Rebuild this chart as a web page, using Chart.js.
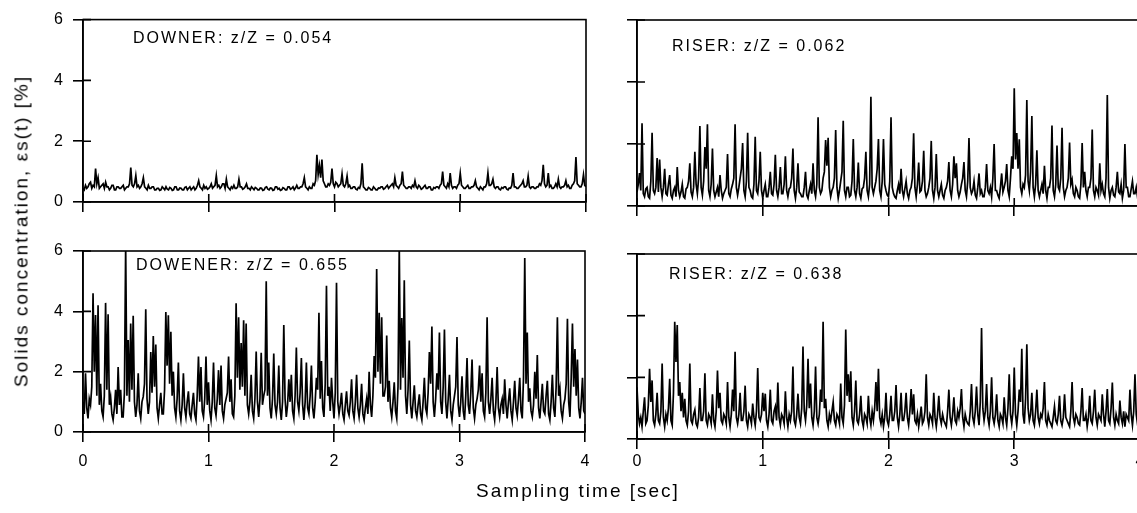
<!DOCTYPE html>
<html>
<head>
<meta charset="utf-8">
<script src="https://cdn.jsdelivr.net/npm/chart.js@4.4.1/dist/chart.umd.min.js"></script>
<style>
  html, body { margin:0; padding:0; background:#fff; overflow:hidden; width:1137px; height:513px; }
  canvas { position:absolute; left:0; top:0; }
  .txt { position:absolute; font-family:'Liberation Sans', Arial, sans-serif; color:#000; white-space:nowrap; letter-spacing:2px; }
  .ann { font-size:16px; line-height:16px; }
</style>
</head>
<body>
<canvas id="cTL" width="1160" height="513"></canvas>
<canvas id="cTR" width="1160" height="513"></canvas>
<canvas id="cBL" width="1160" height="513"></canvas>
<canvas id="cBR" width="1160" height="513"></canvas>

<div class="txt ann" style="left:133px; top:30px;">DOWNER: z/Z = 0.054</div>
<div class="txt ann" style="left:672px; top:38px;">RISER: z/Z = 0.062</div>
<div class="txt ann" style="left:136px; top:257px;">DOWENER: z/Z = 0.655</div>
<div class="txt ann" style="left:669px; top:266px;">RISER: z/Z = 0.638</div>
<div class="txt" style="left:578px; top:490px; font-size:19px; line-height:19px; transform:translate(-50%,-50%);">Sampling time [sec]</div>
<div class="txt" style="left:21px; top:231px; font-size:19px; line-height:19px; transform:translate(-50%,-50%) rotate(-90deg);">Solids concentration, εs(t) [%]</div>

<script>
// ---- data (solids concentration %, read every 0.01 s from 0 to 4 s) ----
const TIME_STEP = 0.01;
const xTicks = [0, 1, 2, 3, 4];
const yTicks = [0, 2, 4, 6];

const downerLow = [ // DOWNER z/Z = 0.054
0.45,0.4,0.55,0.45,0.5,0.6,0.65,0.45,0.55,0.5,1.1,0.6,0.8,0.45,0.5,0.55,0.6,0.45,0.65,0.5,
0.5,0.4,0.45,0.55,0.55,0.4,0.4,0.5,0.5,0.45,0.45,0.5,0.55,0.4,0.45,0.5,0.5,0.6,1.13,0.55,
0.5,0.6,0.87,0.5,0.55,0.45,0.5,0.6,0.8,0.5,0.45,0.4,0.55,0.45,0.45,0.5,0.5,0.4,0.4,0.45,
0.45,0.38,0.4,0.5,0.45,0.4,0.5,0.42,0.4,0.48,0.45,0.38,0.4,0.5,0.5,0.4,0.4,0.46,0.45,0.4,
0.4,0.48,0.5,0.4,0.45,0.5,0.4,0.45,0.5,0.4,0.45,0.55,0.7,0.5,0.45,0.4,0.55,0.45,0.5,0.42,
0.45,0.5,0.6,0.45,0.5,0.55,0.87,0.5,0.55,0.45,0.5,0.6,0.6,0.45,0.75,0.5,0.45,0.4,0.5,0.45,
0.55,0.45,0.45,0.5,0.75,0.5,0.5,0.42,0.45,0.5,0.6,0.45,0.45,0.4,0.5,0.45,0.4,0.48,0.45,0.4,
0.4,0.46,0.45,0.38,0.4,0.48,0.5,0.42,0.4,0.46,0.45,0.38,0.4,0.5,0.5,0.42,0.45,0.38,0.4,0.47,
0.45,0.4,0.4,0.5,0.5,0.42,0.45,0.5,0.4,0.46,0.55,0.45,0.45,0.5,0.5,0.6,0.8,0.5,0.45,0.4,
0.5,0.45,0.45,0.6,0.55,0.7,1.55,0.9,1.2,0.8,1.4,0.7,0.6,0.5,0.5,0.6,0.55,0.65,1.1,0.6,
0.5,0.65,0.6,0.5,0.55,0.6,0.93,0.55,0.5,0.6,0.85,0.5,0.55,0.45,0.45,0.5,0.5,0.42,0.4,0.48,
0.45,0.6,1.27,0.5,0.45,0.4,0.4,0.48,0.45,0.4,0.4,0.5,0.45,0.4,0.4,0.46,0.45,0.5,0.5,0.42,
0.45,0.5,0.55,0.45,0.5,0.55,0.6,0.5,0.8,0.55,0.5,0.45,0.55,0.6,1.0,0.55,0.5,0.45,0.45,0.5,
0.5,0.45,0.55,0.5,0.7,0.5,0.45,0.55,0.5,0.42,0.45,0.5,0.55,0.45,0.45,0.5,0.5,0.4,0.4,0.48,
0.45,0.5,0.5,0.45,0.55,0.6,1.0,0.55,0.5,0.45,0.6,0.5,0.95,0.55,0.45,0.5,0.5,0.45,0.55,0.6,
0.95,0.55,0.5,0.45,0.45,0.5,0.55,0.45,0.45,0.5,0.5,0.55,0.7,0.5,0.45,0.4,0.5,0.45,0.4,0.5,
0.5,0.6,0.96,0.55,0.55,0.6,0.75,0.5,0.45,0.5,0.5,0.42,0.4,0.48,0.45,0.5,0.5,0.42,0.4,0.46,
0.45,0.55,0.95,0.5,0.5,0.45,0.45,0.5,0.55,0.6,0.7,0.5,0.5,0.55,0.85,0.5,0.45,0.5,0.5,0.45,
0.45,0.5,0.5,0.6,0.55,0.7,1.22,0.6,0.5,0.55,0.95,0.5,0.55,0.45,0.45,0.5,0.6,0.5,0.75,0.5,
0.45,0.5,0.5,0.55,0.7,0.5,0.55,0.45,0.45,0.55,0.6,0.7,1.48,0.6,0.55,0.5,0.5,0.6,0.9,0.55,
0.5];

const riserLow = [ // RISER z/Z = 0.062
0.45,0.7,1.06,0.5,2.67,0.4,0.3,0.55,0.6,0.3,0.25,0.8,2.36,0.5,0.4,0.6,1.55,0.45,1.5,0.6,
0.3,0.6,1.2,0.4,0.35,0.7,1.0,0.35,0.25,0.5,0.6,0.3,1.26,0.5,0.3,0.45,0.7,0.3,0.25,0.55,
0.6,0.8,1.38,0.45,0.3,0.6,1.75,0.7,0.4,0.9,2.58,0.6,0.35,0.8,1.9,1.2,2.64,0.5,0.3,0.7,
1.85,0.5,0.3,0.45,0.6,0.3,1.0,0.5,0.25,0.4,0.5,0.6,1.68,0.4,0.3,0.55,0.7,0.9,2.64,0.6,
0.35,0.6,0.9,1.2,2.03,0.5,0.3,0.8,2.36,0.6,0.5,0.3,0.25,0.7,2.23,0.5,0.4,0.8,1.75,0.5,
0.25,0.5,0.7,0.3,0.3,0.6,1.1,0.4,0.35,0.7,1.65,0.5,0.3,0.6,1.26,0.4,0.4,0.7,1.6,0.5,
0.3,0.55,0.6,0.9,1.85,0.5,0.25,0.6,1.38,0.45,0.4,0.3,0.3,0.6,1.1,0.35,0.25,0.5,0.7,0.4,
1.38,0.5,0.3,0.7,2.86,0.6,0.4,0.5,0.9,1.1,2.13,1.3,2.2,0.6,0.3,0.5,0.6,0.9,2.45,0.6,
0.25,0.5,0.8,1.1,2.75,0.5,0.3,0.6,0.6,0.3,0.35,0.8,2.16,0.5,0.3,0.6,1.4,0.4,0.25,0.55,
0.6,0.9,1.75,0.5,0.3,0.7,3.52,0.6,0.4,0.6,0.8,1.2,2.16,0.5,0.3,0.8,2.16,0.7,0.5,0.35,
0.3,0.8,2.86,0.6,0.4,0.3,0.25,0.5,0.7,0.4,1.2,0.5,0.3,0.55,0.8,0.4,0.25,0.5,0.6,0.9,
2.35,0.6,0.3,0.7,1.4,0.45,0.5,0.8,1.78,0.5,0.3,0.4,0.6,0.9,2.1,0.5,0.25,0.6,1.68,0.5,
0.3,0.5,0.7,0.35,0.25,0.5,0.6,0.8,1.42,0.5,0.3,0.7,1.6,0.9,1.38,0.5,0.3,0.45,0.7,0.9,
1.42,0.5,0.3,0.8,2.19,0.6,0.4,0.5,0.8,0.35,0.25,0.6,1.05,0.4,0.5,0.3,0.3,0.6,1.35,0.5,
0.4,0.6,0.3,0.9,2.0,0.5,0.5,0.35,0.25,0.6,1.05,0.45,0.6,0.8,1.35,0.5,0.3,0.9,1.6,1.2,
3.8,1.5,2.35,1.2,2.15,0.6,0.4,0.7,0.6,1.0,3.42,0.8,0.5,1.1,2.9,0.6,0.3,0.7,1.8,0.5,
0.3,0.5,0.7,0.4,1.3,0.5,0.25,0.6,0.6,0.9,2.6,0.5,0.3,0.7,1.95,0.6,0.5,0.9,2.52,0.6,
0.3,0.5,0.6,0.9,2.05,0.7,0.85,0.4,0.3,0.6,0.5,0.3,0.25,0.7,2.03,0.6,1.1,0.5,0.3,0.6,
0.6,0.9,2.47,0.5,0.3,0.6,0.5,0.35,1.38,0.5,0.7,0.4,0.3,0.9,3.58,0.6,0.25,0.5,0.6,0.35,
0.3,0.6,1.1,0.45,0.4,0.7,0.25,0.5,2.0,0.6,0.6,0.3,0.3,0.55,0.8,0.4,0.4,0.6,0.3,0.5,
0.5];

const downerHigh = [ // DOWENER z/Z = 0.655
1.0,0.6,1.95,0.8,0.45,1.1,0.9,1.5,4.6,2.0,3.88,1.2,4.2,0.9,1.6,0.7,0.5,1.2,4.28,1.4,
3.9,0.9,1.17,0.6,0.4,0.8,1.4,0.6,2.15,0.9,1.4,0.5,0.5,1.3,6.2,1.2,3.05,1.0,3.6,1.4,
3.85,1.0,0.5,0.9,1.95,0.7,0.45,1.0,1.17,1.6,4.07,1.1,0.6,1.0,2.65,1.3,3.18,1.5,2.9,0.8,
0.45,0.9,1.3,0.6,0.6,1.4,3.98,2.2,3.87,1.6,3.32,1.2,2.0,0.8,0.5,1.1,2.3,0.7,0.4,0.9,
1.95,0.8,0.5,1.0,1.35,0.6,0.45,0.9,1.3,0.6,0.4,1.2,2.5,1.0,2.15,0.7,0.5,1.1,2.5,0.9,
1.65,0.7,0.4,1.0,2.3,0.8,0.55,1.1,2.05,0.9,2.2,0.7,0.45,0.9,1.1,1.3,2.5,1.0,1.75,0.6,
0.5,1.2,4.27,1.8,3.8,1.4,2.95,1.5,3.7,1.2,3.6,0.9,0.6,1.0,1.9,0.7,0.45,1.1,2.67,1.0,
0.5,1.1,2.63,0.9,1.2,1.4,5.0,1.2,2.3,0.8,0.45,1.1,2.6,0.9,0.6,1.0,2.2,0.8,0.4,1.0,
3.55,1.1,0.5,0.9,1.75,1.0,1.9,0.7,0.45,1.2,2.8,1.0,0.7,1.3,2.45,0.9,0.4,1.0,2.3,0.8,
0.6,1.2,2.2,0.8,0.45,1.0,1.8,1.4,3.95,1.1,2.35,0.8,0.5,1.6,4.85,1.2,1.5,0.7,1.8,1.0,
0.45,1.3,4.95,1.0,0.6,0.9,1.3,0.6,0.4,0.9,1.35,0.7,0.55,1.0,1.75,0.7,0.45,1.0,1.9,0.8,
0.5,0.9,1.6,0.6,0.4,0.8,1.1,0.6,2.0,0.9,0.5,1.2,2.52,1.8,5.4,2.0,3.95,1.6,3.8,1.2,
1.2,1.5,3.2,1.0,1.7,0.8,0.5,1.0,1.65,0.7,0.45,1.5,6.2,1.4,3.78,1.8,5.03,1.2,0.6,1.4,
3.03,0.9,0.45,1.0,1.55,0.7,0.5,0.9,1.25,0.6,0.4,1.0,1.8,0.8,0.6,1.3,2.65,1.6,3.5,1.0,
0.5,1.1,1.95,1.4,3.3,1.0,0.6,1.5,3.4,1.0,0.45,1.1,1.9,0.7,0.4,0.9,1.2,1.5,3.15,0.9,
0.5,1.0,1.85,0.7,0.4,1.2,2.45,0.9,0.6,1.3,2.4,0.8,0.45,0.9,1.1,1.4,2.2,1.0,1.95,0.7,
0.5,1.3,3.8,1.0,0.6,1.1,1.8,0.7,0.4,1.0,2.15,0.8,0.5,0.9,1.1,0.6,1.75,0.9,0.45,1.0,
1.45,0.7,0.4,1.0,1.7,0.8,0.55,1.1,1.8,0.7,0.45,1.8,5.77,1.6,3.3,1.0,1.45,0.7,0.5,0.9,
2.0,1.1,2.55,0.8,0.45,1.0,1.6,0.7,0.6,1.2,1.7,0.6,0.4,1.0,1.9,0.8,0.5,1.5,3.8,1.2,
1.45,0.7,0.45,0.9,1.1,1.6,3.75,1.0,0.5,1.8,3.6,1.5,2.75,1.2,2.4,0.8,0.45,1.0,1.8,0.7,
0.6];

const riserHigh = [ // RISER z/Z = 0.638
1.68,0.8,0.5,0.7,0.4,0.9,1.35,0.5,0.6,1.1,2.28,1.2,1.9,0.6,0.45,0.8,1.5,0.6,0.5,0.9,
2.45,0.7,0.4,0.8,0.6,1.0,1.95,0.6,0.45,1.5,3.8,2.5,3.7,1.4,1.85,0.9,1.5,0.7,1.3,0.6,
0.45,0.9,2.45,0.6,0.5,0.8,0.95,0.5,0.4,0.7,1.65,0.6,0.6,0.9,2.13,0.6,0.45,0.8,0.7,0.5,
1.45,0.6,0.4,0.9,2.22,1.0,1.5,0.6,0.5,0.8,0.7,0.5,1.85,0.7,0.4,0.8,1.6,0.9,2.83,0.7,
0.5,0.8,1.5,0.6,0.6,0.9,1.73,0.6,0.4,0.8,0.7,0.5,1.15,0.7,0.45,0.9,2.3,0.7,0.6,0.8,
1.5,0.9,1.47,0.6,0.4,0.8,1.6,0.6,0.5,0.9,1.05,0.6,1.83,0.7,0.45,0.8,0.7,0.5,1.55,0.7,
0.4,0.8,0.6,0.9,2.35,0.6,0.45,0.8,1.47,0.7,0.5,1.0,3.0,0.9,0.6,1.1,2.6,1.0,1.8,0.7,
0.45,0.9,2.35,0.7,0.5,0.8,1.6,1.2,3.8,1.0,1.3,0.6,0.4,0.8,0.6,0.9,1.2,0.6,0.45,0.8,
0.7,0.5,1.8,0.7,0.5,1.1,3.55,1.4,2.1,1.2,2.2,0.7,0.45,0.9,1.9,0.6,0.5,0.8,1.4,0.6,
0.4,0.8,0.7,0.5,1.4,0.7,0.45,0.9,0.6,1.0,1.85,0.9,2.28,0.7,0.5,0.8,0.4,0.7,1.5,0.6,
0.45,0.8,1.4,0.6,0.6,0.9,1.75,0.7,0.4,0.8,1.5,0.6,0.6,0.9,1.5,0.7,0.45,0.9,1.62,0.8,
1.45,0.6,0.5,0.8,0.4,0.7,1.05,0.5,0.6,0.9,2.1,0.7,0.45,0.8,0.7,0.5,1.5,0.7,0.4,0.8,
1.4,0.7,0.5,0.8,0.6,0.5,0.4,0.9,1.6,0.7,0.45,0.8,1.35,0.6,0.5,0.9,0.7,1.0,1.62,0.7,
0.4,0.8,0.6,0.5,0.45,0.9,1.78,0.7,0.5,0.9,1.7,0.8,0.45,1.2,3.6,1.0,0.6,0.9,1.78,0.7,
0.45,0.9,2.0,0.7,0.5,0.8,1.45,0.6,0.4,0.8,0.7,0.5,1.35,0.7,0.45,1.0,2.1,0.8,0.5,0.9,
2.32,0.8,0.45,0.9,1.6,1.2,2.93,0.8,0.5,1.3,3.07,1.0,0.6,0.8,1.5,0.6,0.45,0.9,1.6,0.7,
0.5,0.8,0.7,1.0,1.85,0.6,0.45,0.8,0.6,0.5,0.4,0.7,1.05,0.6,0.5,0.8,1.4,0.6,0.45,0.7,
1.45,0.7,0.6,0.5,0.4,0.9,1.85,0.7,0.5,0.8,0.7,0.5,0.45,0.9,1.65,0.6,0.6,0.8,0.4,0.7,
1.4,0.6,0.5,0.9,1.6,0.7,0.45,0.8,0.7,0.6,1.45,0.8,0.4,0.9,1.62,0.6,0.5,1.0,1.83,0.7,
0.45,0.8,0.6,0.5,1.25,0.7,0.5,0.9,0.4,0.8,0.7,0.6,1.6,0.8,0.45,0.9,2.1,0.8,0.5,0.7,
0.6];

// ---- drawing ----
const FONT = "'Liberation Sans', Arial, sans-serif";
Chart.defaults.font.family = FONT;
Chart.defaults.font.size = 16;
Chart.defaults.color = '#000';

const Y_W = 40, X_H = 40, CW = 1160, CH = 513;

const framePlugin = {
  id: 'frame',
  afterDraw(chart) {
    const { ctx, chartArea: a, scales } = chart;
    ctx.save();
    ctx.strokeStyle = '#000';
    ctx.lineWidth = 1.6;
    ctx.strokeRect(a.left, a.top, a.right - a.left, a.bottom - a.top);
    ctx.beginPath();
    scales.x.ticks.forEach(t => {
      const px = scales.x.getPixelForValue(t.value);
      ctx.moveTo(px, a.bottom); ctx.lineTo(px, a.bottom - 8);
    });
    scales.y.ticks.forEach(t => {
      const py = scales.y.getPixelForValue(t.value);
      ctx.moveTo(a.left, py); ctx.lineTo(a.left + 8, py);
    });
    ctx.stroke();
    ctx.restore();
  }
};

function makePanel(id, values, area, showX, showY, xPad) {
  const pts = values.map((v, i) => ({ x: +(i * TIME_STEP).toFixed(2), y: v }));
  return new Chart(document.getElementById(id), {
    type: 'line',
    data: { datasets: [{ data: pts, borderColor: '#000', borderWidth: 1.7, pointRadius: 0, tension: 0, fill: false }] },
    options: {
      responsive: false,
      animation: false,
      events: [],
      parsing: false,
      normalized: true,
      layout: { padding: { left: area.left - Y_W, top: area.top, right: CW - area.right, bottom: CH - area.bottom - X_H } },
      plugins: { legend: { display: false }, tooltip: { enabled: false } },
      scales: {
        x: {
          type: 'linear', min: 0, max: 4,
          afterBuildTicks: s => { s.ticks = xTicks.map(v => ({ value: v })); },
          afterFit: s => { s.height = X_H; },
          ticks: { display: showX, padding: xPad, maxRotation: 0, autoSkip: false, callback: v => String(v) },
          grid: { display: true, drawOnChartArea: false, drawTicks: true, tickLength: 10, color: '#000', lineWidth: 1.6 },
          border: { display: true, color: '#000', width: 1.6 }
        },
        y: {
          type: 'linear', min: 0, max: 6,
          afterBuildTicks: s => { s.ticks = yTicks.map(v => ({ value: v })); },
          afterFit: s => { s.width = Y_W; },
          ticks: { display: showY, padding: 10, callback: v => String(v) },
          grid: { display: true, drawOnChartArea: false, drawTicks: true, tickLength: 10, color: '#000', lineWidth: 1.6 },
          border: { display: true, color: '#000', width: 1.6 }
        }
      }
    },
    plugins: [framePlugin]
  });
}

makePanel('cTL', downerLow,  { left: 83,  top: 15,  right: 586,  bottom: 202 }, false, true, 0);
makePanel('cTR', riserLow,   { left: 637, top: 20,  right: 1140, bottom: 206 }, false, false, 0);
makePanel('cBL', downerHigh, { left: 83,  top: 251, right: 585,  bottom: 432 }, true, true, 10);
makePanel('cBR', riserHigh,  { left: 637, top: 254, right: 1140, bottom: 439 }, true, false, 3);
</script>
</body>
</html>
